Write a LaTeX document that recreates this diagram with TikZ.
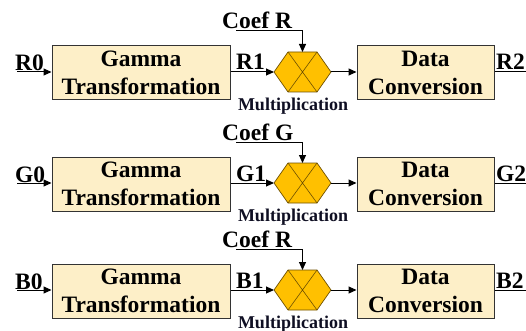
\documentclass[tikz,border=0pt]{standalone}
\usepackage{fontspec}
\setmainfont{Liberation Serif}[BoldFont={Liberation Serif Bold}]
\usetikzlibrary{arrows.meta}
\definecolor{boxfill}{RGB}{253,239,200}
\definecolor{hexfill}{RGB}{255,192,0}
\definecolor{hexline}{RGB}{110,80,0}
\definecolor{multcol}{RGB}{15,15,35}
\begin{document}
\begin{tikzpicture}[x=1pt,y=-1pt,
  blk/.style={draw=black!80, line width=1pt, fill=boxfill, minimum height=54pt, align=center, inner sep=0pt, font=\fontsize{23.5}{28}\selectfont\bfseries},
  lbl/.style={font=\fontsize{23.5}{26}\selectfont\bfseries, inner sep=0pt},
  mlbl/.style={font=\fontsize{18}{20}\selectfont\bfseries, text=multcol, inner sep=0pt},
  conn/.style={line width=1pt, -{Triangle[length=8pt,width=7pt]}},
  hexs/.style={draw=hexline, fill=hexfill, line width=0.7pt},
  hexx/.style={draw=hexline, line width=0.6pt},
]
\useasboundingbox (0,0) rectangle (526,331);
\clip (0,0) rectangle (526,331);
\foreach \y/\c/\k/\i in {72/R/R/1,183/G/G/2,290/B/R/3}{
  % blocks
  \node[blk, minimum width=178pt] (g\i) at (141,\y+1) {Gamma\\Transformation};
  \node[blk, minimum width=137pt] (d\i) at (425.5,\y+1) {Data\\Conversion};
  % hexagon
  \coordinate (hl\i) at (274,\y);
  \coordinate (htl\i) at (288,\y-20);
  \coordinate (htr\i) at (317,\y-20);
  \coordinate (hr\i) at (331,\y);
  \coordinate (hbr\i) at (317,\y+20);
  \coordinate (hbl\i) at (288,\y+20);
  \coordinate (ht\i) at (302.5,\y-20);
  \draw[hexs] (hl\i) -- (htl\i) -- (htr\i) -- (hr\i) -- (hbr\i) -- (hbl\i) -- cycle;
  \draw[hexx] (htl\i) -- (hbr\i) (htr\i) -- (hbl\i);
  % input
  \coordinate (in\i) at (17,\y);
  \node[lbl, anchor=base west] (lin\i) at (15,\y-1) {\c0};
  \draw[conn] (in\i) -- (in\i -| g\i.west);
  % gamma -> hex
  \node[lbl, anchor=base west] (lmid\i) at (236,\y-2) {\c1};
  \draw[conn] (hl\i -| g\i.east) -- (hl\i);
  % hex -> data
  \draw[conn] (hr\i) -- (hr\i -| d\i.west);
  % output
  \coordinate (out\i) at (536,\y);
  \node[lbl, anchor=base west] (lout\i) at (496,\y-2) {\c2};
  \draw[conn] (out\i -| d\i.east) -- (out\i);
  % coefficient
  \coordinate (cf\i) at (236,\y-41);
  \node[lbl, anchor=base west] (lcf\i) at (222,\y-43) {Coef \k};
  \draw[conn] (cf\i) -| (ht\i);
  % multiplication label
  \node[mlbl] (lm\i) at (293,\y+34) {Multiplication};
}
\end{tikzpicture}
\end{document}
